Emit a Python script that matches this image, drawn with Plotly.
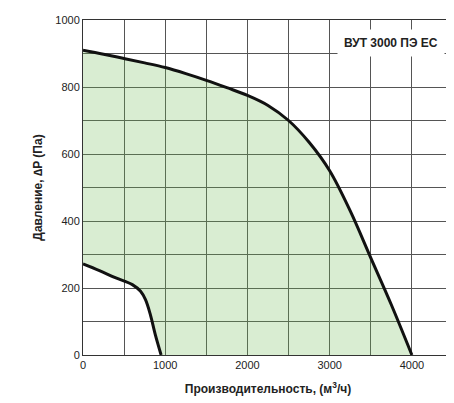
import plotly.graph_objects as go

upper_x = [0, 250, 500, 750, 1000, 1250, 1500, 1750, 2000, 2250, 2500, 2750, 3000, 3250, 3500, 3750, 4000]
upper_y = [910, 898, 885, 872, 858, 840, 820, 798, 775, 745, 700, 635, 550, 430, 290, 150, 0]
lower_x = [0, 200, 400, 600, 700, 760, 820, 880, 950]
lower_y = [272, 252, 230, 210, 190, 165, 120, 60, 0]

poly_x = upper_x + lower_x[::-1]
poly_y = upper_y + lower_y[::-1]

fig = go.Figure()
fig.add_trace(go.Scatter(x=poly_x, y=poly_y, fill="toself", fillcolor="rgba(110,185,80,0.26)",
                         line=dict(width=0), mode="lines", hoverinfo="skip"))
fig.add_trace(go.Scatter(x=upper_x, y=upper_y, mode="lines", line=dict(color="#111", width=3, shape="spline")))
fig.add_trace(go.Scatter(x=lower_x, y=lower_y, mode="lines", line=dict(color="#111", width=3, shape="spline")))

fig.add_annotation(x=3745, y=930, text="<b>ВУТ 3000 ПЭ ЕС</b>", showarrow=False,
                   bgcolor="white", font=dict(size=12, color="#222", family="Arial"),
                   xanchor="center", yanchor="middle", borderpad=6)

axis_common = dict(showgrid=True, gridcolor="#555", gridwidth=1, zeroline=False,
                   showline=True, linecolor="#333", mirror=True, ticks="", automargin=False,
                   tickfont=dict(size=11, color="#222", family="Arial"))
fig.update_xaxes(range=[0, 4500], tickvals=[0, 500, 1000, 1500, 2000, 2500, 3000, 3500, 4000, 4500],
                 ticktext=["0", "", "1000", "", "2000", "", "3000", "", "4000", ""],
                 title=dict(text="<b>Производительность, (м<sup>3</sup>/ч)</b>", standoff=14,
                            font=dict(size=12, family="Arial", color="#222")),
                 **axis_common)
fig.update_yaxes(range=[0, 1000], tickvals=list(range(0, 1001, 100)),
                 ticktext=[str(v) if v % 200 == 0 else "" for v in range(0, 1001, 100)],
                 title=dict(text="<b>Давление, ∆P (Па)</b>", standoff=10,
                            font=dict(size=12, family="Arial", color="#222")),
                 **axis_common)
fig.update_layout(width=454, height=403, showlegend=False, plot_bgcolor="white", paper_bgcolor="white",
                  margin=dict(l=75, r=9, t=12, b=56, autoexpand=False))
fig.write_html("out.html")
